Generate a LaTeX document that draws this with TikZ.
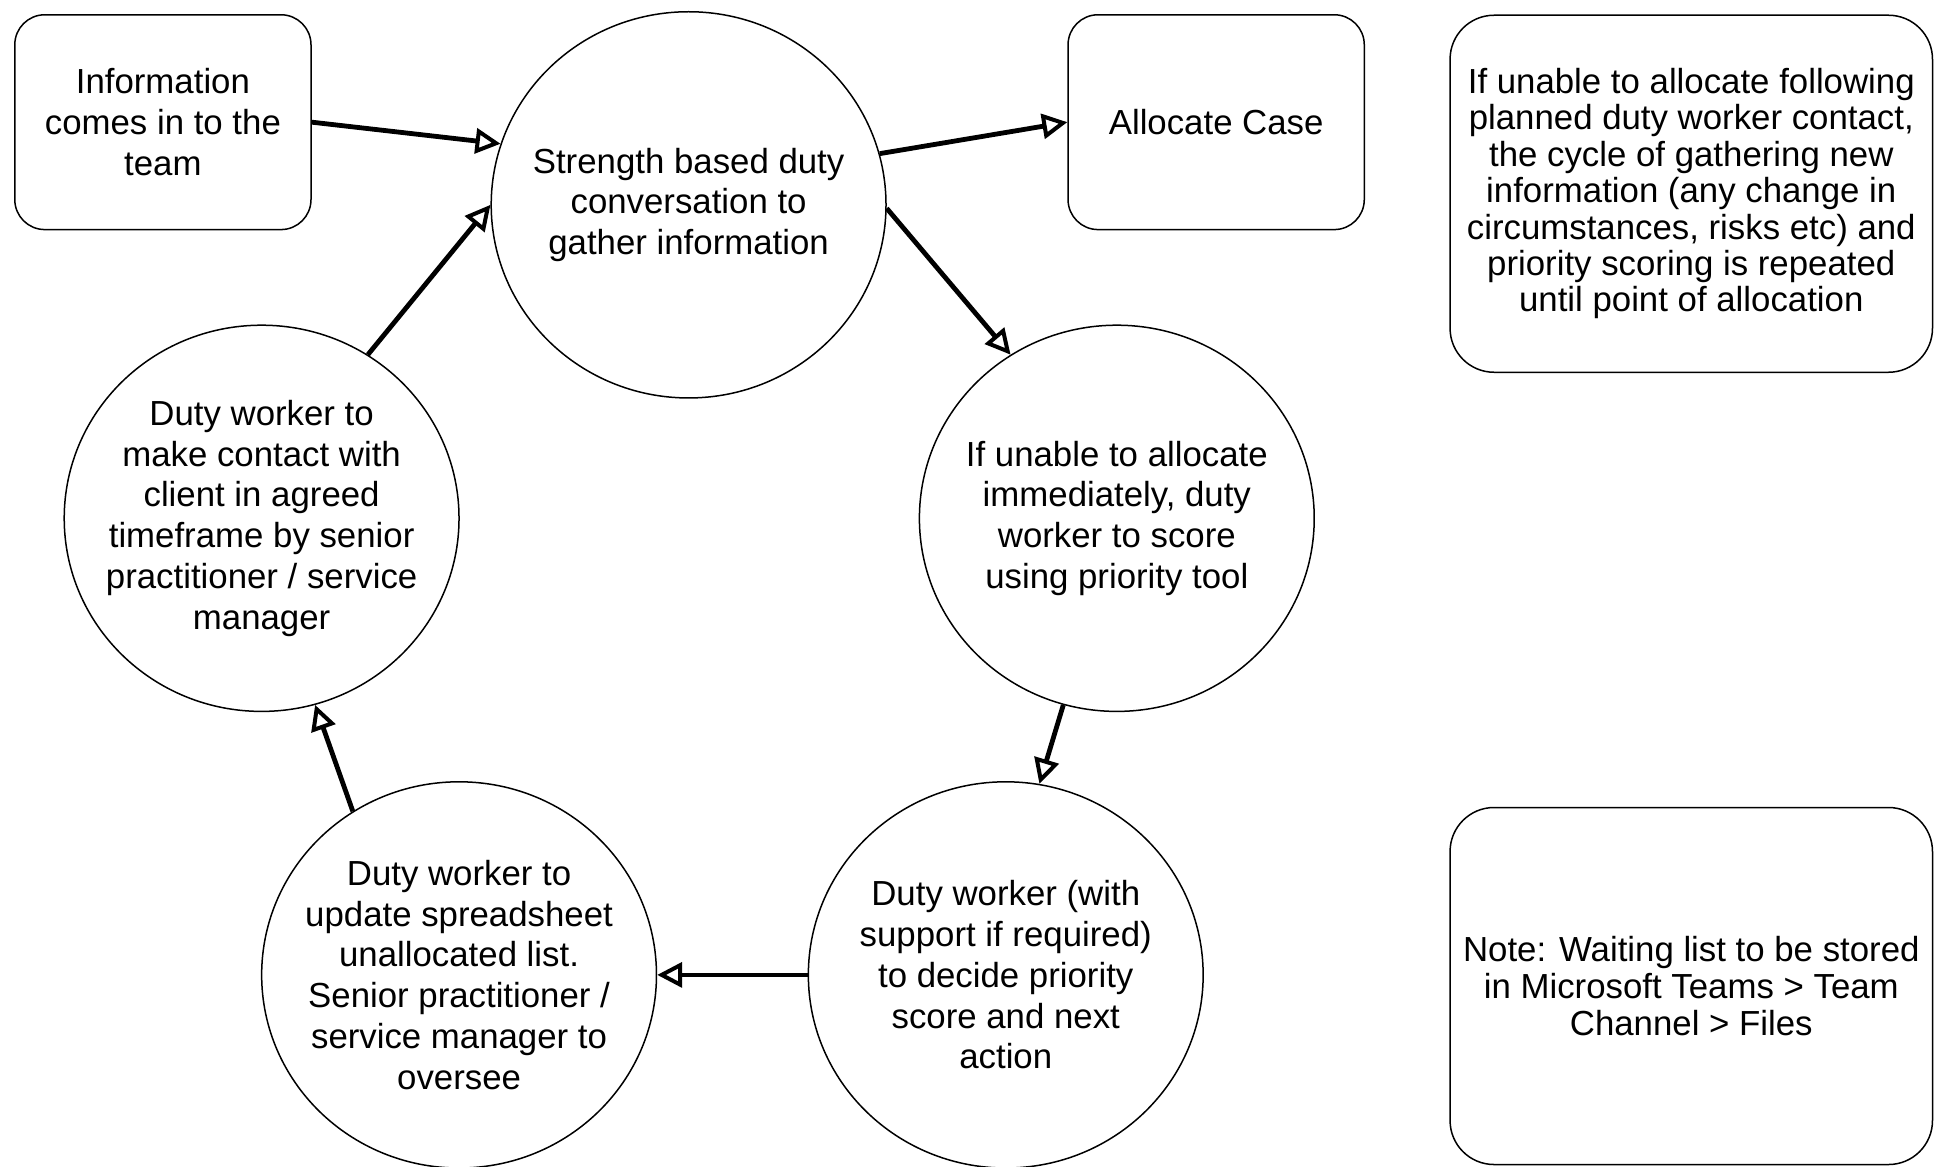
\documentclass[tikz,border=0pt]{standalone}
\usepackage{fontspec}
\setmainfont{Liberation Sans}
\usetikzlibrary{arrows.meta,shapes.geometric}
\begin{document}
\begin{tikzpicture}[x=0.617pt,y=-0.617pt,
  every node/.style={font=\fontsize{17.4pt}{20.4pt}\selectfont, align=center, text=black},
  bubble/.style={draw, line width=0.75pt, ellipse, inner sep=0pt, minimum width=197.4pt, minimum height=193.1pt},
  rbox/.style={draw, line width=0.75pt, rounded corners=15pt, inner sep=0pt, minimum width=148.1pt, minimum height=107.4pt},
  notebox/.style={draw, line width=0.75pt, rounded corners=22pt, inner sep=0pt, minimum width=241.2pt, minimum height=178.5pt},
  flow/.style={line width=2.4pt, -{Triangle[open, length=12.5pt, width=12.5pt, line width=2pt]}}
]
\useasboundingbox (0,0) rectangle (1568,945);

\node[rbox] (info) at (132,99) {Information\\comes in to the\\team};
\node[bubble, label={center:{Strength based duty\\conversation to\\gather information}}] (strength) at (558,166) {};
\node[rbox] (alloc) at (985.5,99) {Allocate Case};
\node[notebox, font=\fontsize{17.4pt}{18.2pt}\selectfont] (note1) at (1370.5,157) {If unable to allocate following\\planned duty worker contact,\\the cycle of gathering new\\information (any change in\\circumstances, risks etc) and\\priority scoring is repeated\\until point of allocation};
\node[bubble, label={center:{If unable to allocate\\immediately, duty\\worker to score\\using priority tool}}] (immed) at (905,420) {};
\node[bubble, label={center:{Duty worker (with\\support if required)\\to decide priority\\score and next\\action}}] (decide) at (815,790) {};
\node[bubble, label={center:{Duty worker to\\update spreadsheet\\unallocated list.\\Senior practitioner /\\service manager to\\oversee}}] (update) at (372,790) {};
\node[bubble, label={center:{Duty worker to\\make contact with\\client in agreed\\timeframe by senior\\practitioner / service\\manager}}] (contact) at (212,420) {};
\node[notebox, font=\fontsize{17.4pt}{18.4pt}\selectfont] (note2) at (1370.5,799) {Note: Waiting list to be stored\\in Microsoft Teams > Team\\Channel > Files};

\draw[flow] (info.east) -- (strength.162);
\draw[flow] (contact.57) -- (strength.180);
\draw[flow] (strength.15) -- (alloc.west);
\draw[flow] (strength.-1) -- (immed.123);
\draw[flow] (immed.-106) -- (decide.80);
\draw[flow] (decide.west) -- (update.east);
\draw[flow] (update.123) -- (contact.-74);
\end{tikzpicture}
\end{document}
